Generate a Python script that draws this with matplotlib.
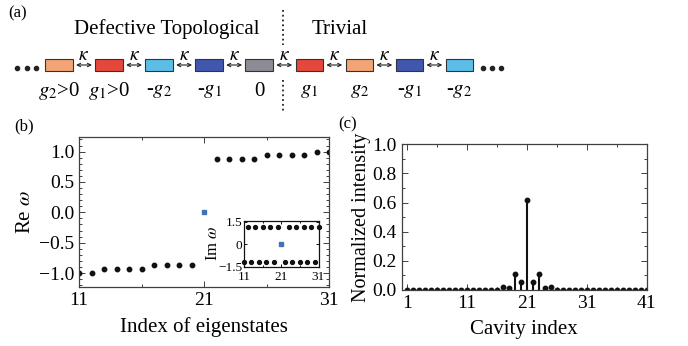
import matplotlib.pyplot as plt
import numpy as np
from matplotlib.patches import Rectangle, FancyArrowPatch
from matplotlib.ticker import MultipleLocator, FixedLocator

plt.rcParams['font.family'] = ['Liberation Serif', 'DejaVu Serif']
plt.rcParams['mathtext.fontset'] = 'stix'

# (a) chain of cavities
gain_labels = ["$g_2$>0", "$g_1$>0", "-$g_2$", "-$g_1$", "0", "$g_1$", "$g_2$", "-$g_1$", "-$g_2$"]
box_colors = ["#F2A474", "#E5473A", "#5DBDE9", "#4157AE", "#8C8C94",
              "#E5473A", "#F2A474", "#4157AE", "#5DBDE9"]

# (b) real part of eigenfrequencies
idx_b = [11, 12, 13, 14, 15, 16, 17, 18, 19, 20, 22, 23, 24, 25, 26, 27, 28, 29, 30, 31]
re_w = [-1.0, -1.0, -0.935, -0.935, -0.935, -0.935, -0.87, -0.87, -0.87, -0.87,
        0.875, 0.875, 0.875, 0.875, 0.94, 0.94, 0.94, 0.94, 1.0, 1.0]
defect_idx = 21
defect_re = 0.0
defect_im = 0.0

# inset: imaginary part
im_low_idx = [11, 13, 15, 17, 19, 22, 24, 26, 28, 30]
im_low = [-1.23, -1.21, -1.21, -1.2, -1.21, -1.2, -1.21, -1.21, -1.22, -1.23]
im_high_idx = [12, 14, 16, 18, 20, 23, 25, 27, 29, 31]
im_high = [1.18, 1.17, 1.17, 1.16, 1.16, 1.16, 1.17, 1.17, 1.17, 1.18]

# (c) field distribution of the defect state
cavity = np.arange(1, 42)
intensity = np.zeros(41)
intensity[16:25] = [0.023, 0.011, 0.107, 0.057, 0.618, 0.057, 0.107, 0.011, 0.023]

W, H = 688, 346
fig = plt.figure(figsize=(W / 100, H / 100), dpi=100)

# ---- panel (a), drawn in pixel coordinates
ax0 = fig.add_axes([0, 0, 1, 1])
ax0.set_xlim(0, W)
ax0.set_ylim(H, 0)
ax0.axis('off')

x0, step, bw, bh, yc = 59, 50.05, 27.5, 12, 65
for i, (lab, col) in enumerate(zip(gain_labels, box_colors)):
    cx = x0 + i * step
    ax0.add_patch(Rectangle((cx - bw / 2, yc - bh / 2), bw, bh, facecolor=col,
                            edgecolor='#333333', lw=0.8))
    ax0.text(cx, 91, lab, ha='center', va='center', fontsize=15)
    if i < len(gain_labels) - 1:
        ax0.add_patch(FancyArrowPatch((cx + bw / 2 + 0.5, yc), (cx + step - bw / 2 - 0.5, yc),
                                      arrowstyle='<->', mutation_scale=6, lw=0.8, color='#222222'))
        ax0.text(cx + step / 2, 55, r"$\kappa$", ha='center', va='center', fontsize=14)

ax0.plot([17, 26.5, 36], [68, 68, 68], 'o', color='#222222', ms=3)
ax0.plot([483, 492, 501], [68, 68, 68], 'o', color='#222222', ms=3)
ax0.plot([282.7, 282.7], [10, 45], ':', color='#222222', lw=1.3)
ax0.plot([282.7, 282.7], [80, 112], ':', color='#222222', lw=1.3)
ax0.text(167, 29, "Defective Topological", ha='center', va='center', fontsize=15)
ax0.text(340, 29, "Trivial", ha='center', va='center', fontsize=15)
ax0.text(8, 13, "(a)", ha='left', va='center', fontsize=12)
ax0.text(14, 126, "(b)", ha='left', va='center', fontsize=12)
ax0.text(338, 124, "(c)", ha='left', va='center', fontsize=12)


def style(ax, frame='#404040', size=14):
    for s in ax.spines.values():
        s.set_color(frame)
        s.set_linewidth(0.9)
    ax.tick_params(which='both', direction='in', top=True, right=True, labelsize=size,
                   color=frame, width=0.7)
    ax.tick_params(which='major', length=4)
    ax.tick_params(which='minor', length=2)


# ---- panel (b)
ax1 = fig.add_axes([79 / W, 1 - 287 / H, 250 / W, 150 / H])
ax1.plot(idx_b, re_w, 'o', color='#111111', ms=3.2)
ax1.plot([defect_idx], [defect_re], 's', color='#3F72BA', ms=3.3)
ax1.set_xlim(11, 31)
ax1.set_ylim(-1.23, 1.24)
ax1.xaxis.set_major_locator(FixedLocator([11, 21, 31]))
ax1.xaxis.set_minor_locator(FixedLocator([16, 26]))
ax1.yaxis.set_minor_locator(MultipleLocator(0.1))
ax1.set_yticks([-1.0, -0.5, 0.0, 0.5, 1.0])
ax1.set_yticklabels(["\u22121.0", "\u22120.5", "0.0", "0.5", "1.0"])
style(ax1)
ax1.set_xlabel("Index of eigenstates", fontsize=15, labelpad=6)
ax1.set_ylabel(r"Re $\omega$", fontsize=15, labelpad=3)

# inset
axi = fig.add_axes([244 / W, 1 - 266.5 / H, 74.5 / W, 45.5 / H])
axi.plot(im_low_idx, im_low, 'o', color='#111111', ms=2.8, clip_on=False)
axi.plot(im_high_idx, im_high, 'o', color='#111111', ms=2.8, clip_on=False)
axi.plot([defect_idx], [defect_im], 's', color='#3F72BA', ms=2.8)
axi.set_xlim(11, 31)
axi.set_ylim(-1.48, 1.56)
axi.set_xticks([11, 21, 31])
axi.set_yticks([-1.5, 0, 1.5])
axi.set_yticklabels(["\u22121.5", "0", "1.5"])
axi.xaxis.set_minor_locator(FixedLocator([16, 26]))
style(axi, frame='#111111', size=9.5)
axi.tick_params(which='major', length=2.5, pad=1)
axi.tick_params(axis='x', which='major', pad=3.5)
axi.tick_params(which='minor', length=1.5)
axi.set_ylabel(r"Im $\omega$", fontsize=12, labelpad=-2)

# ---- panel (c)
ax2 = fig.add_axes([401.7 / W, 1 - 290 / H, 245 / W, 145.7 / H])
ax2.vlines(cavity, 0, intensity, color='#111111', lw=1.5)
ax2.plot(cavity, intensity, 'o', color='#111111', ms=3.2)
ax2.set_xlim(0.05, 41)
ax2.set_ylim(0, 1.0)
ax2.xaxis.set_major_locator(FixedLocator([1, 11, 21, 31, 41]))
ax2.xaxis.set_minor_locator(FixedLocator([6, 16, 26, 36]))
ax2.yaxis.set_major_locator(MultipleLocator(0.2))
ax2.yaxis.set_minor_locator(MultipleLocator(0.1))
ax2.yaxis.set_major_formatter(plt.FormatStrFormatter('%.1f'))
style(ax2)
ax2.set_xlabel("Cavity index", fontsize=15, labelpad=6)
ax2.set_ylabel("Normalized intensity", fontsize=14.5, labelpad=1)

fig.savefig("out.png", dpi=100)
